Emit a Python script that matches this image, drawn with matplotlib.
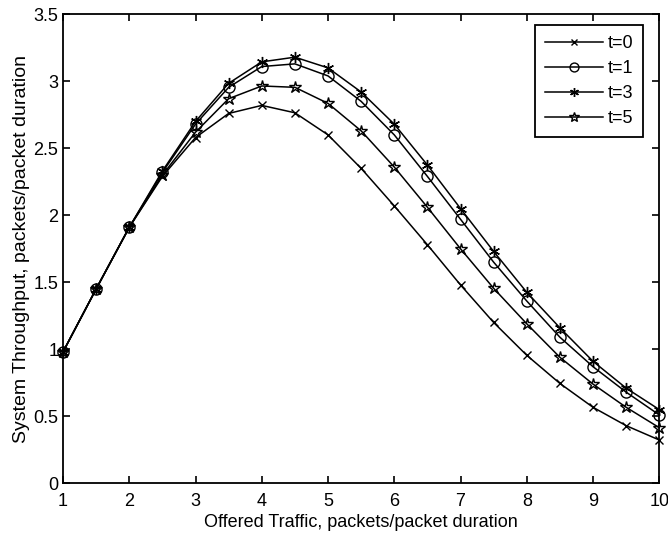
import numpy as np
import matplotlib.pyplot as plt

plt.rcParams['font.family'] = ['Liberation Sans', 'DejaVu Sans']

# offered traffic (packets/packet duration)
G = np.arange(1, 10.01, 0.5)

S_t0 = [0.98, 1.45, 1.91, 2.29, 2.58, 2.76, 2.82, 2.765, 2.60, 2.35, 2.07, 1.78, 1.48,
        1.20, 0.955, 0.745, 0.567, 0.43, 0.323]
S_t1 = [0.98, 1.45, 1.91, 2.32, 2.68, 2.955, 3.11, 3.13, 3.04, 2.85, 2.60, 2.29, 1.97,
        1.65, 1.36, 1.09, 0.87, 0.68, 0.51]
S_t3 = [0.98, 1.45, 1.91, 2.33, 2.70, 2.985, 3.145, 3.18, 3.10, 2.92, 2.68, 2.375, 2.05,
        1.73, 1.425, 1.16, 0.91, 0.71, 0.55]
S_t5 = [0.98, 1.45, 1.91, 2.30, 2.62, 2.87, 2.965, 2.955, 2.835, 2.63, 2.36, 2.06, 1.75,
        1.455, 1.19, 0.94, 0.74, 0.567, 0.415]

fig = plt.figure(figsize=(6.68, 5.37), dpi=100)
ax = fig.add_axes([0.0943, 0.1, 0.8927, 0.8734])

base = dict(color='black', linewidth=1.1, markeredgewidth=1.0,
            markerfacecolor='none', clip_on=False)
ax.plot(G, S_t0, marker='x', markersize=6, label='t=0', **base)
ax.plot(G, S_t1, marker='o', markersize=8, label='t=1', **base)
ax.plot(G, S_t3, marker=(6, 2, 0), markersize=8, label='t=3', **base)
ax.plot(G, S_t5, marker='*', markersize=9, label='t=5', **base)

ax.set_xlim(1, 10)
ax.set_ylim(0, 3.5)
ax.set_xticks(np.arange(1, 11, 1))
ax.set_yticks(np.arange(0, 3.51, 0.5))
ax.set_yticklabels(['0', '0.5', '1', '1.5', '2', '2.5', '3', '3.5'])
ax.tick_params(direction='in', top=True, right=True, labelsize=13, length=5, width=1.2)
ax.tick_params(axis='x', pad=7)
for sp in ax.spines.values():
    sp.set_linewidth(1.3)

ax.set_xlabel('Offered Traffic, packets/packet duration', fontsize=13, labelpad=3)
ax.set_ylabel('System Throughput, packets/packet duration', fontsize=14, labelpad=2)

leg = ax.legend(loc='upper right', bbox_to_anchor=(0.9727, 0.977), borderaxespad=0,
                fontsize=13, fancybox=False, framealpha=1, edgecolor='black',
                handlelength=3.2, handletextpad=0.25, borderpad=0.55,
                labelspacing=0.45, markerscale=0.8)
leg.get_frame().set_linewidth(1.3)

fig.savefig('out.png', dpi=100)
